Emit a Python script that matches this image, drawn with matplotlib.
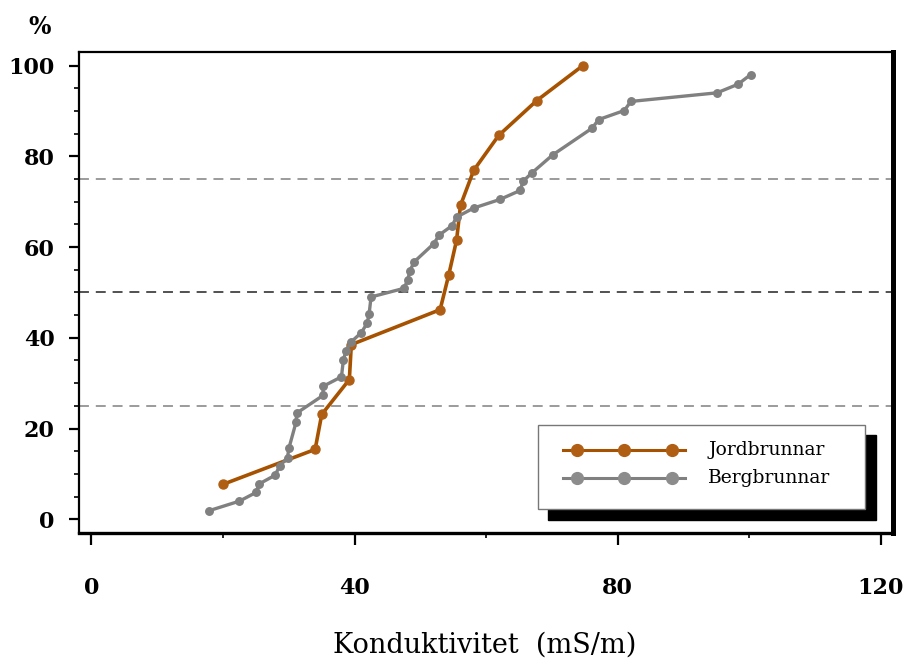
import matplotlib
matplotlib.use("Agg")
import matplotlib.pyplot as plt
from matplotlib.lines import Line2D
from matplotlib.patches import Rectangle
from matplotlib.ticker import MultipleLocator

# Jordbrunnar: conductivity (mS/m) and cumulative percent
jord_x = [20.0, 34.0, 35.0, 39.2, 39.5, 53.0, 54.3, 55.5, 56.1, 58.1, 61.9, 67.7, 74.7]
jord_y = [7.7, 15.4, 23.1, 30.8, 38.5, 46.2, 53.8, 61.5, 69.2, 76.9, 84.6, 92.3, 100.0]

# Bergbrunnar
berg_x = [17.9, 22.5, 25.0, 25.5, 27.9, 28.6, 29.8, 30.0, 31.1, 31.2, 35.2, 35.2,
          38.0, 38.3, 38.7, 39.4, 41.0, 41.9, 42.2, 42.5, 47.5, 48.1, 48.4, 49.1,
          52.0, 52.9, 54.8, 55.5, 58.1, 62.1, 65.2, 65.6, 67.0, 70.1, 76.1, 77.1,
          81.0, 82.0, 95.1, 98.3, 100.2]
berg_y = [1.9, 4.0, 5.9, 7.8, 9.7, 11.7, 13.6, 15.6, 21.4, 23.4, 27.3, 29.3,
          31.4, 35.2, 37.1, 39.0, 41.1, 43.2, 45.2, 49.0, 50.9, 52.8, 54.8, 56.8,
          60.7, 62.7, 64.7, 66.6, 68.6, 70.5, 72.5, 74.5, 76.4, 80.3, 86.2, 88.1,
          90.1, 92.1, 94.0, 95.9, 98.0]

quartiles = [25, 50, 75]
labels = ["Jordbrunnar", "Bergbrunnar"]

ORANGE = "#A65200"
ORANGE_M = "#B05E14"
GRAY = "#808080"
SERIF = "DejaVu Serif"

fig = plt.figure(figsize=(9.07, 6.64), dpi=100)
ax = fig.add_axes([0.0871, 0.1968, 0.8971, 0.7249])

for q in quartiles:
    col = "#222222" if q == 50 else GRAY
    ax.axhline(q, color=col, lw=1.1, ls=(0, (6.5, 4.5)), zorder=1)

ax.plot(jord_x, jord_y, color=ORANGE, lw=2.6, marker="o", ms=6.5,
        mfc=ORANGE_M, mec=ORANGE_M, zorder=3)
ax.plot(berg_x, berg_y, color=GRAY, lw=2.4, marker="o", ms=5.4,
        mfc=GRAY, mec=GRAY, zorder=4)

ax.set_xlim(-1.9, 121.8)
ax.set_ylim(-3.1, 103.0)

ax.xaxis.set_major_locator(MultipleLocator(40))
ax.xaxis.set_minor_locator(MultipleLocator(20))
ax.yaxis.set_major_locator(MultipleLocator(20))
ax.yaxis.set_minor_locator(MultipleLocator(5))

ax.tick_params(axis="x", which="major", direction="out", length=8.5, width=1.6, pad=23)
ax.tick_params(axis="x", which="minor", direction="out", length=3.5, width=1.2)
ax.tick_params(axis="y", which="major", direction="out", length=7.5, width=1.6, pad=10)
ax.tick_params(axis="y", which="minor", direction="out", length=3.5, width=1.2)

for lab in ax.get_xticklabels() + ax.get_yticklabels():
    lab.set_fontfamily(SERIF)
    lab.set_fontweight("bold")
    lab.set_fontsize(16)

ax.spines["left"].set_linewidth(1.6)
ax.spines["top"].set_linewidth(1.6)
ax.spines["bottom"].set_linewidth(2.4)
ax.spines["right"].set_linewidth(3.6)

fig.text(40 / 907, 1 - 27 / 664, "%", ha="center", va="center",
         fontsize=17, fontweight="bold", family=SERIF)
fig.text(485 / 907, 1 - 645 / 664, "Konduktivitet  (mS/m)", ha="center", va="center",
         fontsize=19.5, family=SERIF)

# legend with a solid black shadow
ax.add_patch(Rectangle((0.5768, 0.0276), 0.4027, 0.1766, transform=ax.transAxes,
                       facecolor="black", edgecolor="black", clip_on=False, zorder=5))
ax.add_patch(Rectangle((0.5641, 0.0505), 0.4015, 0.1745, transform=ax.transAxes,
                       facecolor="white", edgecolor="#777777", lw=1.0, clip_on=False, zorder=6))

hx = [0.5944, 0.6117, 0.6702, 0.7284, 0.7447]
for ly, col, mcol, lab in [(0.1731, ORANGE, ORANGE_M, labels[0]),
                           (0.1143, GRAY, "#8C8C8C", labels[1])]:
    ax.add_line(Line2D(hx, [ly] * len(hx), transform=ax.transAxes, color=col, lw=2.2,
                       marker="o", ms=8.5, mfc=mcol, mec=mcol, markevery=[1, 2, 3],
                       clip_on=False, zorder=7))
    ax.text(0.7734, ly, lab, transform=ax.transAxes, ha="left", va="center",
            fontsize=13.5, family=SERIF, zorder=8)

fig.savefig("out.png", dpi=100)
